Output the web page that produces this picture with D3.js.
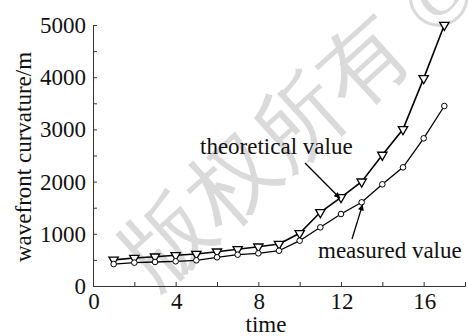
<!DOCTYPE html>
<html>
<head>
<meta charset="utf-8">
<script src="https://cdn.jsdelivr.net/npm/d3@7"></script>
<style>
  html, body { margin: 0; padding: 0; background: #fff; }
  svg { display: block; }
  text { font-family: "Liberation Serif", "DejaVu Serif", serif; fill: #111; }
</style>
</head>
<body>
<div id="chart"></div>
<script>
// data
const time = [1, 2, 3, 4, 5, 6, 7, 8, 9, 10, 11, 12, 13, 14, 15, 16, 17];
const theoretical = [500, 536, 561, 588, 613, 657, 703, 753, 805, 1010, 1412, 1699, 1998, 2510, 3002, 3978, 5000];
const measured = [420, 447, 460, 473, 492, 550, 600, 626, 676, 868, 1124, 1379, 1603, 1948, 2273, 2829, 3448];
const xTicks = [0, 4, 8, 12, 16];
const yTicks = [0, 1000, 2000, 3000, 4000, 5000];

const width = 468, height = 336;
const margin = { top: 25, right: 3, bottom: 50, left: 93 };

const svg = d3.select("#chart").append("svg")
  .attr("width", width)
  .attr("height", height);

// watermark
svg.append("text")
  .attr("transform", "translate(155,291) rotate(-42)")
  .attr("font-family", "'Noto Sans CJK SC', sans-serif")
  .attr("font-size", 88)
  .style("fill", "#dadada")
  .text("版权所有 ©");

const x = d3.scaleLinear().domain([0, 18]).range([margin.left, width - margin.right]);
const y = d3.scaleLinear().domain([0, 5000]).range([height - margin.bottom, margin.top]);

// axes, ticks pointing inward
const xAxis = svg.append("g")
  .attr("transform", `translate(0,${y(0)})`)
  .call(d3.axisBottom(x).tickValues(d3.range(0, 19, 2)).tickSize(-4).tickFormat(""));
const yAxis = svg.append("g")
  .attr("transform", `translate(${x(0)},0)`)
  .call(d3.axisLeft(y).tickValues(d3.range(0, 5001, 500)).tickSize(-4).tickFormat(""));
[xAxis, yAxis].forEach(g => {
  g.select(".domain").attr("stroke", "#333");
  g.selectAll(".tick line").attr("stroke", "#333");
});

svg.selectAll(".xlab")
  .data(xTicks)
  .join("text")
  .attr("class", "xlab")
  .attr("x", d => x(d) + 1)
  .attr("y", y(0) + 23)
  .attr("text-anchor", "middle")
  .attr("font-size", 23)
  .text(d => d);

svg.selectAll(".ylab")
  .data(yTicks)
  .join("text")
  .attr("class", "ylab")
  .attr("x", x(0) - 7)
  .attr("y", d => y(d))
  .attr("dy", "0.35em")
  .attr("text-anchor", "end")
  .attr("font-size", 23)
  .text(d => d);

svg.append("text")
  .attr("x", 266)
  .attr("y", 332)
  .attr("text-anchor", "middle")
  .attr("font-size", 23)
  .text("time");

svg.append("text")
  .attr("transform", "translate(31,157) rotate(-90)")
  .attr("text-anchor", "middle")
  .attr("font-size", 23)
  .text("wavefront curvature/m");

// lines
const line = d3.line().x((d, i) => x(time[i])).y(d => y(d));

svg.append("path")
  .datum(theoretical)
  .attr("d", line)
  .attr("fill", "none")
  .attr("stroke", "#000")
  .attr("stroke-width", 1.6);

svg.append("path")
  .datum(measured)
  .attr("d", line)
  .attr("fill", "none")
  .attr("stroke", "#000")
  .attr("stroke-width", 1.3);

const tri = d3.symbol().type(d3.symbolTriangle).size(38);
svg.selectAll(".tri")
  .data(theoretical)
  .join("path")
  .attr("class", "tri")
  .attr("d", tri)
  .attr("transform", (d, i) => `translate(${x(time[i])},${y(d)}) rotate(180)`)
  .attr("fill", "#fff")
  .attr("stroke", "#000")
  .attr("stroke-width", 1.3);

svg.selectAll(".circ")
  .data(measured)
  .join("circle")
  .attr("class", "circ")
  .attr("cx", (d, i) => x(time[i]))
  .attr("cy", d => y(d))
  .attr("r", 2.8)
  .attr("fill", "#fff")
  .attr("stroke", "#000")
  .attr("stroke-width", 1);

// annotations
svg.append("defs").append("marker")
  .attr("id", "arrow")
  .attr("viewBox", "0 0 10 10")
  .attr("refX", 10).attr("refY", 5)
  .attr("markerWidth", 9).attr("markerHeight", 6)
  .attr("markerUnits", "userSpaceOnUse")
  .attr("orient", "auto")
  .append("path")
  .attr("d", "M0,0L10,5L0,10Z")
  .attr("fill", "#000");

svg.append("line")
  .attr("x1", 305).attr("y1", 163)
  .attr("x2", x(12) - 1).attr("y2", y(theoretical[11]) + 1)
  .attr("stroke", "#000").attr("stroke-width", 1.3)
  .attr("marker-end", "url(#arrow)");

svg.append("line")
  .attr("x1", 352).attr("y1", 239)
  .attr("x2", x(13) + 1).attr("y2", y(measured[12]) + 2)
  .attr("stroke", "#000").attr("stroke-width", 1.3)
  .attr("marker-end", "url(#arrow)");

svg.append("text")
  .attr("x", 200).attr("y", 154)
  .attr("font-size", 23)
  .text("theoretical value");

svg.append("text")
  .attr("x", 318).attr("y", 258)
  .attr("font-size", 23)
  .text("measured value");
</script>
</body>
</html>
